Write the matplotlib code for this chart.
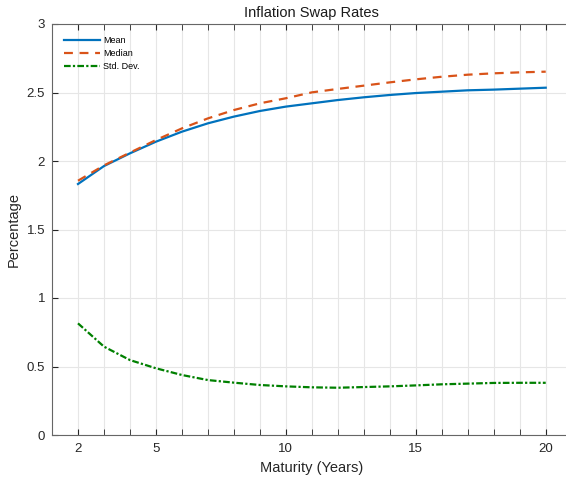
import matplotlib
matplotlib.use('Agg')
import matplotlib.pyplot as plt
import numpy as np

plt.rcParams['font.family'] = ['Liberation Sans', 'DejaVu Sans']

maturity = np.arange(2, 21)
mean = [1.832, 1.963, 2.056, 2.141, 2.214, 2.275, 2.324, 2.365, 2.397, 2.421,
        2.445, 2.465, 2.482, 2.496, 2.506, 2.516, 2.521, 2.528, 2.535]
median = [1.856, 1.968, 2.061, 2.153, 2.238, 2.311, 2.372, 2.421, 2.458, 2.501,
          2.526, 2.550, 2.574, 2.596, 2.615, 2.630, 2.640, 2.647, 2.652]
std = [0.815, 0.645, 0.547, 0.487, 0.438, 0.401, 0.382, 0.365, 0.355, 0.348,
       0.345, 0.350, 0.355, 0.362, 0.370, 0.375, 0.380, 0.381, 0.381]

fig = plt.figure(figsize=(5.66, 4.79), dpi=100)
ax = fig.add_axes([52/566, 44/479, (571.7-52)/566, 411/479])

ax.plot(maturity, mean, color='#0072BD', lw=1.6, label='Mean')
ax.plot(maturity, median, color='#D95319', lw=1.6, ls=(0, (4, 3)), label='Median')
ax.plot(maturity, std, color='#008000', lw=1.6, ls=(0, (3, 1, 1, 1)), label='Std. Dev.')

ax.set_xlim(1, 21)
ax.set_ylim(0, 3)
ax.set_xticks([2, 5, 10, 15, 20])
ax.set_xticks(np.arange(2, 21), minor=True)
ax.set_yticks(np.arange(0, 3.01, 0.5))
ax.set_yticklabels(['0', '0.5', '1', '1.5', '2', '2.5', '3'])
ax.grid(True, which='both', color='#e6e6e6', lw=0.8)
ax.set_axisbelow(True)
ax.tick_params(which='both', direction='in', top=True, right=True,
               colors='#262626', labelsize=9.5, length=4)
ax.tick_params(axis='x', pad=6)
ax.tick_params(axis='y', pad=5)
for s in ax.spines.values():
    s.set_color('#666666')

ax.set_title('Inflation Swap Rates', fontsize=10.5, color='#1a1a1a', pad=5)
ax.set_xlabel('Maturity (Years)', fontsize=10.5, color='#262626')
ax.set_ylabel('Percentage', fontsize=10.5, color='#262626')

ax.legend(loc='upper left', frameon=False, fontsize=6.5, handlelength=4.0,
          handletextpad=0.35, labelspacing=0.45, borderaxespad=0.9)

fig.savefig('out.png', dpi=100)
